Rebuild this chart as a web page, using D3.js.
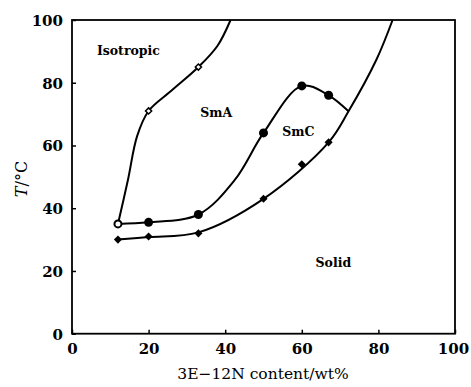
<!DOCTYPE html>
<html><head><meta charset="utf-8">
<script src="https://cdn.jsdelivr.net/npm/d3@7"></script>
<style>body{margin:0;background:#fff}svg{display:block}</style>
</head><body>
<svg id="c" width="471" height="387"></svg>
<script>
// ---- data ----
const xTicks = [0, 20, 40, 60, 80, 100];
const yTicks = [0, 20, 40, 60, 80, 100];
// measured transition points
const isoX = [20, 33];            // open diamonds (isotropic -> SmA)
const isoY = [71, 85];
const smcX = [20, 33, 50, 60, 67]; // filled circles
const smcY = [35.5, 38, 64, 79, 76];
const startX = [12];               // open circle
const startY = [35];
const solidX = [12, 20, 33, 50, 60, 67]; // filled diamonds (melting)
const solidY = [30, 31, 32, 43, 54, 61];
// hand-drawn phase boundaries
const isoLine = [[12,35],[14.6,49],[17,63],[20,71],[26,77.5],[33,85],[38,91.8],[41.4,100]];
const smcLine = [[12,35],[20,35.5],[33,38],[42.5,49],[50,64],[60,79],[67,76],[72.2,70.9]];
const solidLine = [[12,30],[20,30.8],[33,32.3],[50,43],[67,61],[72.2,70.9],[79.5,87.4],[83.7,100]];
const labels = [
  {t:"Isotropic", x:6.5, y:89},
  {t:"SmA", x:33.5, y:69.2},
  {t:"SmC", x:54.9, y:62.9},
  {t:"Solid", x:63.6, y:21.3}
];

// ---- chart ----
const L = 72, R = 455, T = 20, B = 333.7;
const svg = d3.select("#c");
const x = d3.scaleLinear().domain([0,100]).range([L,R]);
const y = d3.scaleLinear().domain([0,100]).range([B,T]);
const font = "'DejaVu Serif', serif";

// frame
svg.append("rect").attr("x",L).attr("y",T).attr("width",R-L).attr("height",B-T)
  .attr("fill","none").attr("stroke","#000").attr("stroke-width",1.8);

// axes (inward ticks)
const xa = svg.append("g").attr("transform",`translate(0,${B})`)
  .call(d3.axisBottom(x).tickValues(xTicks).tickSizeInner(-4).tickSizeOuter(0).tickPadding(5));
const ya = svg.append("g").attr("transform",`translate(${L},0)`)
  .call(d3.axisLeft(y).tickValues(yTicks).tickSizeInner(-4).tickSizeOuter(0).tickPadding(9));
[xa, ya].forEach(g => {
  g.select(".domain").remove();
  g.selectAll(".tick line").attr("stroke","#000").attr("stroke-width",1.5);
  g.selectAll(".tick text").attr("font-family",font).attr("font-size",15)
    .attr("font-weight","bold").attr("fill","#000");
});
xa.selectAll(".tick text").attr("dy","1.0em");
xa.selectAll(".tick").filter(d => d === 100).select("text").attr("dx", -2);
ya.selectAll(".tick text").attr("dy","0.36em");

// axis titles
svg.append("text").attr("x",(L+R)/2 - 0.5).attr("y",379).attr("text-anchor","middle")
  .attr("font-family",font).attr("font-size",15.5).attr("fill","#000").text("3E\u221212N content/wt%");
const yt = svg.append("text").attr("transform",`translate(27,179) rotate(-90)`)
  .attr("text-anchor","middle").attr("font-family",font).attr("font-size",16).attr("fill","#000");
yt.append("tspan").attr("font-style","italic").text("T");
yt.append("tspan").text("/\u00B0C");

// boundaries
const line = d3.line().x(d=>x(d[0])).y(d=>y(d[1])).curve(d3.curveCatmullRom.alpha(0.5));
[isoLine, smcLine, solidLine].forEach(pts => {
  svg.append("path").attr("d", line(pts)).attr("fill","none")
    .attr("stroke","#000").attr("stroke-width",2);
});

// markers
const diamond = d3.symbol().type(d3.symbolDiamond2);
svg.selectAll(".sd").data(d3.zip(solidX, solidY)).join("path")
  .attr("d", diamond.size(42)()).attr("transform", d=>`translate(${x(d[0])},${y(d[1])})`)
  .attr("fill","#000");
svg.selectAll(".od").data(d3.zip(isoX, isoY)).join("path")
  .attr("d", diamond.size(24)()).attr("transform", d=>`translate(${x(d[0])},${y(d[1])})`)
  .attr("fill","#fff").attr("stroke","#000").attr("stroke-width",1.5);
svg.selectAll(".fc").data(d3.zip(smcX, smcY)).join("circle")
  .attr("cx", d=>x(d[0])).attr("cy", d=>y(d[1])).attr("r",4.5).attr("fill","#000");
svg.selectAll(".oc").data(d3.zip(startX, startY)).join("circle")
  .attr("cx", d=>x(d[0])).attr("cy", d=>y(d[1])).attr("r",3.5)
  .attr("fill","#fff").attr("stroke","#000").attr("stroke-width",2);

// region labels
svg.selectAll(".lab").data(labels).join("text")
  .attr("x", d=>x(d.x)).attr("y", d=>y(d.y)).attr("font-family",font)
  .attr("font-size",12.5).attr("font-weight","bold").attr("fill","#000").text(d=>d.t);
</script>
</body></html>
